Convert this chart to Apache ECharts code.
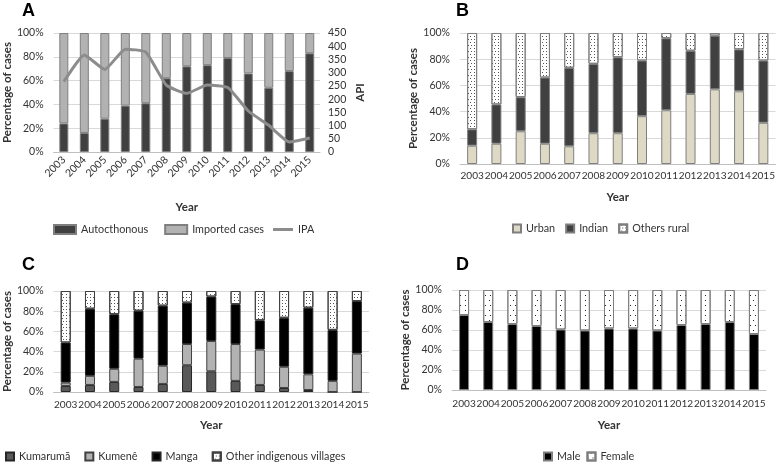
<!DOCTYPE html>
<html><head><meta charset="utf-8">
<script src="https://cdn.jsdelivr.net/npm/echarts@6/dist/echarts.min.js"></script>
<style>html,body{margin:0;padding:0;background:#fff}#c{width:778px;height:465px}</style>
</head><body><div id="c"></div>
<script>
const years = ['2003','2004','2005','2006','2007','2008','2009','2010','2011','2012','2013','2014','2015'];
// Panel A
const autoA = [24,16,28,39,41,62,72,73,79,66,54,68,83];
const importedA = [76,84,72,61,59,38,28,27,21,34,46,32,17];
const apiA = [266,367,312,389,378,253,222,253,244,155,101,38,53];
// Panel B
const urbanB = [14,15.5,25,15.5,13.5,23.5,23.5,36.5,41,53.5,57,55.5,31.5];
const indianB = [12.5,30,26,50.5,60,53,58,42.5,55,33,41,32,47.5];
const othersB = [73.5,54.5,49,34,26.5,23.5,18.5,21,4,13.5,2,12.5,21];
// Panel C
const kumarumaC = [6,7,10,5,8,26.5,20.5,11,7,4,2,0,0];
const kumeneC = [3.3,9,13,28,18,21,30,36.5,35,21,15.5,11,38];
const mangaC = [39.7,66.5,54,47.5,59.5,41,44,39.5,29,48.5,66,50.5,52];
const otherC = [51,17.5,23,19.5,14.5,11.5,5.5,13,29,26.5,16.5,38.5,10];
// Panel D
const maleD = [75,68,66,64,60.5,59.5,61.5,61.5,59.5,65,66,68,56];
const femaleD = [25,32,34,36,39.5,40.5,38.5,38.5,40.5,35,34,32,44];

const FONT = 'Lato';
const TXT = '#333';
const denseDecal = {symbol:'rect', symbolSize:1, color:'#555', dashArrayX:[[1,2],[0,1.5,1,0.5]], dashArrayY:[1,1.5], rotation:0};
const sparseDecal = {symbol:'rect', symbolSize:1, color:'#222', dashArrayX:[[1,4],[0,2.5,1,1.5]], dashArrayY:[1,3.5], rotation:0};

const grids = [
  {left:53, top:33, width:267, height:119},
  {left:460, top:33, width:317, height:131},
  {left:52, top:291, width:317, height:101},
  {left:452, top:290, width:314, height:100}
];
const xGaps = [49, 27, 27, 29];
const xMargins = [6, 7, 8, 9];
const xAxes = grids.map((g,i)=>({
  type:'category', gridIndex:i, data:years,
  axisTick:{show:false},
  axisLine:{lineStyle:{color:'#bfbfbf', width:1}},
  axisLabel:{interval:0, color:TXT, fontFamily:FONT, fontSize: i===0?10.5:10.1, rotate: i===0?45:0, margin:xMargins[i]},
  name:'Year', nameLocation:'middle', nameGap:xGaps[i],
  nameTextStyle:{fontFamily:FONT, fontWeight:'bold', fontSize:11.5, color:TXT}
}));
const yNameGaps = [40, 41, 39, 39];
const yAxes = grids.map((g,i)=>({
  type:'value', gridIndex:i, min:0, max:100, interval:20,
  axisLine:{show:false}, axisTick:{show:false},
  splitLine:{lineStyle:{color:'#d9d9d9'}},
  axisLabel:{formatter:'{value}%', color:TXT, fontFamily:FONT, fontSize:10.5, margin:10},
  name:'Percentage of cases', nameLocation:'middle', nameGap:yNameGaps[i],
  nameTextStyle:{fontFamily:FONT, fontWeight:'bold', fontSize:11.5, color:TXT}
}));
yAxes.push({
  type:'value', gridIndex:0, position:'right', min:0, max:450, interval:50,
  axisLine:{show:false}, axisTick:{show:false}, splitLine:{show:false},
  axisLabel:{color:TXT, fontFamily:FONT, fontSize:10.5, margin:8},
  name:'API', nameLocation:'middle', nameGap:34, nameRotate:90,
  nameTextStyle:{fontFamily:FONT, fontWeight:'bold', fontSize:11.5, color:TXT}
});

function bar(name, data, gi, stack, color, border, bw, decal){
  const s = {type:'bar', name, data, xAxisIndex:gi, yAxisIndex:gi, stack, barWidth:bw,
    itemStyle:{color, borderColor:border, borderWidth:1}};
  if (decal) s.itemStyle.decal = decal;
  return s;
}

const series = [
  bar('Autocthonous', autoA, 0, 'a', '#404040', '#7f7f7f', 9),
  bar('Imported cases', importedA, 0, 'a', '#b2b2b2', '#7f7f7f', 9),
  {type:'line', name:'IPA', data:apiA, xAxisIndex:0, yAxisIndex:4, symbol:'none', smooth:0.15,
    lineStyle:{color:'#8c8c8c', width:3}, itemStyle:{color:'#8c8c8c'}},
  bar('Urban', urbanB, 1, 'b', '#ddd9c4', '#7f7f7f', 10),
  bar('Indian', indianB, 1, 'b', '#404040', '#7f7f7f', 10),
  bar('Others rural', othersB, 1, 'b', '#ffffff', '#7f7f7f', 10, denseDecal),
  bar('Kumarumã', kumarumaC, 2, 'c', '#595959', '#262626', 10),
  bar('Kumenê', kumeneC, 2, 'c', '#b2b2b2', '#404040', 10),
  bar('Manga', mangaC, 2, 'c', '#000000', '#262626', 10),
  bar('Other indigenous villages', otherC, 2, 'c', '#ffffff', '#404040', 10, denseDecal),
  bar('Male', maleD, 3, 'd', '#000000', '#7f7f7f', 10),
  bar('Female', femaleD, 3, 'd', '#ffffff', '#7f7f7f', 10, sparseDecal)
];

const legTxt = {fontFamily:FONT, fontSize:10.8, color:TXT};
const L = (o)=>Object.assign({icon:'rect', padding:0, textStyle:legTxt}, o);
const legends = [
  L({data:['Autocthonous','Imported cases'], left:53, top:224, itemWidth:22, itemHeight:9, itemGap:16}),
  L({data:['IPA'], left:273, top:224, itemWidth:20, itemHeight:3}),
  L({data:['Urban','Indian','Others rural'], left:512, top:223, itemWidth:8, itemHeight:8, itemGap:10}),
  L({data:['Kumarumã','Kumenê','Manga','Other indigenous villages'], left:5, top:451, itemWidth:8, itemHeight:8, itemGap:14}),
  L({data:['Male','Female'], left:543, top:451, itemWidth:8, itemHeight:8, itemGap:6})
];

const letter = (t,x,y)=>({type:'text', left:x, top:y, style:{text:t, font:'bold 18px "Liberation Sans"', fill:'#000'}});

const chart = echarts.init(document.getElementById('c'), null, {renderer:'canvas'});
chart.setOption({
  animation:false,
  backgroundColor:'#fff',
  grid:grids, xAxis:xAxes, yAxis:yAxes, series, legend:legends,
  graphic:[letter('A',22,2), letter('B',456,2), letter('C',22,256), letter('D',456,256)]
});
</script></body></html>
